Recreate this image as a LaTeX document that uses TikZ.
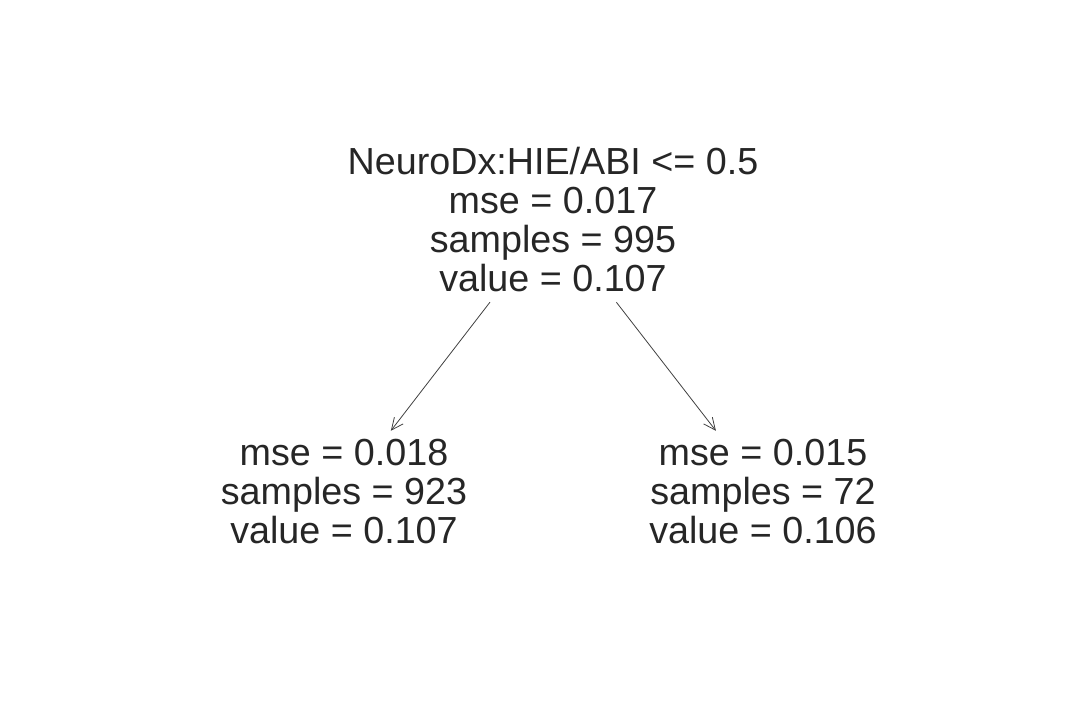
\documentclass[tikz,border=0pt]{standalone}
\usepackage{fontspec}
\setmainfont{Liberation Sans}
\usetikzlibrary{arrows.meta}
\definecolor{txt}{HTML}{262626}
\definecolor{edge}{HTML}{404040}
\begin{document}
\begin{tikzpicture}[x=1pt,y=-1pt,
  treenode/.style={draw=none,align=center,text=txt,inner sep=0pt,
    font=\fontsize{37.7}{39}\selectfont,minimum width=120pt},
  rootnode/.style={treenode,minimum height=164pt},
  leafnode/.style={treenode,minimum height=122pt},
  edgearrow/.style={draw=edge,line width=0.8pt,-{Straight Barb[length=12pt,width=11pt]}}]
\useasboundingbox (0,0) rectangle (1080,720);
\node[rootnode] (root) at (553,220) {NeuroDx:HIE/ABI <= 0.5\\mse = 0.017\\samples = 995\\value = 0.107};
\node[leafnode] (L) at (344,492) {mse = 0.018\\samples = 923\\value = 0.107};
\node[leafnode] (R) at (763,492) {mse = 0.015\\samples = 72\\value = 0.106};
\draw[edgearrow] (root) -- (L);
\draw[edgearrow] (root) -- (R);
\end{tikzpicture}
\end{document}
